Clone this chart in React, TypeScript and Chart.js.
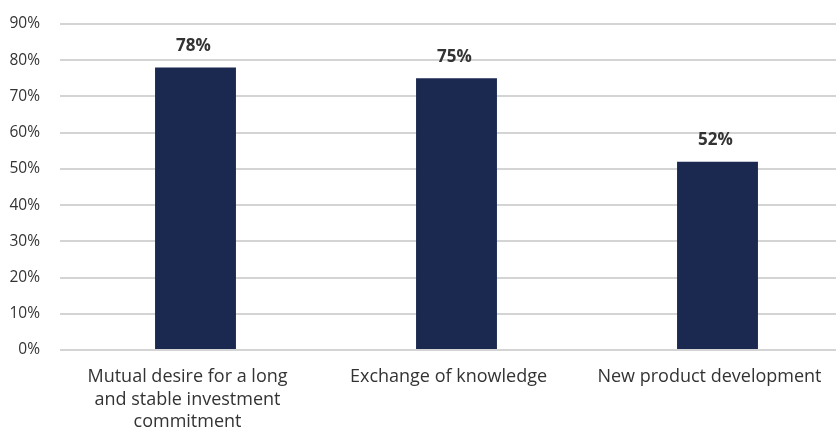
import React, { useEffect, useRef } from "react";
import { Chart, registerables } from "chart.js";

Chart.register(...registerables);

const categories: string[][] = [
  ["Mutual desire for a long", "and stable investment", "commitment"],
  ["Exchange of knowledge"],
  ["New product development"],
];
const values: number[] = [78, 75, 52];
const yTicks: number[] = [0, 10, 20, 30, 40, 50, 60, 70, 80, 90];

const FONT = "'Open Sans', sans-serif";

const valueLabels = {
  id: "valueLabels",
  afterDatasetsDraw(chart: any) {
    const ctx = chart.ctx;
    const meta = chart.getDatasetMeta(0);
    ctx.save();
    ctx.font = `bold 17px ${FONT}`;
    ctx.fillStyle = "#333333";
    ctx.textAlign = "center";
    ctx.textBaseline = "middle";
    meta.data.forEach((bar: any, i: number) => {
      ctx.fillText(values[i] + "%", bar.x - 2, bar.y - 21);
    });
    ctx.restore();
  },
};

export default function App() {
  const ref = useRef<HTMLCanvasElement>(null);
  useEffect(() => {
    document.body.style.margin = "0";
    document.body.style.overflow = "hidden";
    const chart = new Chart(ref.current!, {
      type: "bar",
      data: {
        labels: categories,
        datasets: [
          {
            data: values,
            backgroundColor: "#1b2950",
            barPercentage: 0.62,
            categoryPercentage: 0.5,
          },
        ],
      },
      options: {
        animation: false,
        responsive: false,
        layout: { padding: { top: 24, right: 0, left: 0, bottom: 0 } },
        plugins: { legend: { display: false }, tooltip: { enabled: false } },
        scales: {
          x: {
            grid: { display: false, drawTicks: false },
            border: { display: true, color: "#d4d4d4", width: 2 },
            ticks: {
              font: { family: FONT, size: 18, lineHeight: 1.25 },
              color: "#333333",
              padding: 16,
              labelOffset: -8,
              maxRotation: 0,
              autoSkip: false,
            },
            afterFit: (s: any) => {
              s.height = 80;
            },
          },
          y: {
            min: 0,
            max: 90,
            afterBuildTicks: (s: any) => {
              s.ticks = yTicks.map((v) => ({ value: v }));
            },
            grid: { color: "#d4d4d4", lineWidth: 2, drawTicks: true, tickLength: 5 },
            border: { display: false },
            ticks: {
              font: { family: FONT, size: 15.5 },
              color: "#333333",
              padding: 20,
              callback: (v: any) => v + "%",
            },
            afterFit: (s: any) => {
              s.width = 65;
              s.paddingTop = 0;
              s.paddingBottom = 0;
            },
          },
        },
      },
      plugins: [valueLabels],
    });
    return () => chart.destroy();
  }, []);
  return (
    <div style={{ width: 848, height: 430 }}>
      <canvas ref={ref} width={848} height={430} style={{ display: "block" }} />
    </div>
  );
}
